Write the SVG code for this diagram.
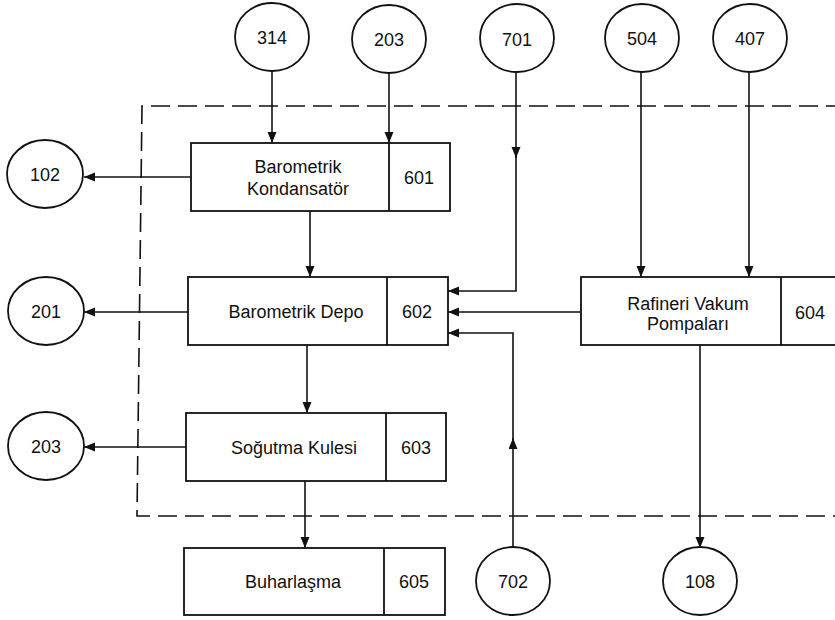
<svg xmlns="http://www.w3.org/2000/svg" width="835" height="620" viewBox="0 0 835 620">
<defs>
<marker id="ah" markerUnits="userSpaceOnUse" markerWidth="12" markerHeight="10" refX="11" refY="4.5" orient="auto">
<path d="M0,0 L11,4.5 L0,9 z" fill="#111"/>
</marker>
<style>
.n ellipse,.n rect,.n line{fill:#fff;stroke:#111;stroke-width:1.8}
.n line{fill:none}
text{font-family:"Liberation Sans",Arial,sans-serif;font-size:18px;fill:#111;text-anchor:middle}
.c path{fill:none;stroke:#111;stroke-width:1.6}
.dash{fill:none;stroke:#111;stroke-width:1.6;stroke-dasharray:19 8}
</style>
</defs>
<rect width="835" height="620" fill="#fff"/>
<path class="dash" d="M845 106 L142 106 L137 516 L845 516"/>
<g class="c">
<path d="M272 71 V143" marker-end="url(#ah)"/>
<path d="M389 73 V143" marker-end="url(#ah)"/>
<path d="M191 177 H84" marker-end="url(#ah)"/>
<path d="M310 211 V277" marker-end="url(#ah)"/>
<path d="M188 312 H84" marker-end="url(#ah)"/>
<path d="M307 345 V413" marker-end="url(#ah)"/>
<path d="M186 447 H84" marker-end="url(#ah)"/>
<path d="M305 481 V548" marker-end="url(#ah)"/>
<path d="M516 72 V158" marker-end="url(#ah)"/>
<path d="M516 156 V291 H448" marker-end="url(#ah)"/>
<path d="M581 312 H448" marker-end="url(#ah)"/>
<path d="M513 548 V438" marker-end="url(#ah)"/>
<path d="M513 440 V333 H448" marker-end="url(#ah)"/>
<path d="M641 72 V277" marker-end="url(#ah)"/>
<path d="M749 72 V277" marker-end="url(#ah)"/>
<path d="M700 345 V548" marker-end="url(#ah)"/>
</g>
<g id="c314" class="n"><ellipse cx="272" cy="37" rx="37" ry="34"/><text x="272" y="44">314</text></g>
<g id="c203a" class="n"><ellipse cx="389" cy="39" rx="37" ry="34"/><text x="389" y="46">203</text></g>
<g id="c701" class="n"><ellipse cx="517" cy="38" rx="37" ry="34"/><text x="517" y="46">701</text></g>
<g id="c504" class="n"><ellipse cx="642" cy="38" rx="37" ry="34"/><text x="642" y="45">504</text></g>
<g id="c407" class="n"><ellipse cx="750" cy="38" rx="37" ry="34"/><text x="750" y="45">407</text></g>
<g id="c102" class="n"><ellipse cx="45" cy="174" rx="38" ry="34"/><text x="45" y="181">102</text></g>
<g id="c201" class="n"><ellipse cx="46" cy="311" rx="38" ry="34"/><text x="46" y="318">201</text></g>
<g id="c203b" class="n"><ellipse cx="46" cy="446" rx="38" ry="34"/><text x="46" y="453">203</text></g>
<g id="c702" class="n"><ellipse cx="513" cy="581" rx="37" ry="34"/><text x="513" y="588">702</text></g>
<g id="c108" class="n"><ellipse cx="700" cy="581" rx="37" ry="34"/><text x="700" y="588">108</text></g>
<g id="b601" class="n"><rect x="191" y="143" width="259" height="68"/><line x1="389" y1="143" x2="389" y2="211"/><text x="298" y="173">Barometrik</text><text x="298" y="195">Kondansatör</text><text x="419" y="184">601</text></g>
<g id="b602" class="n"><rect x="188" y="277" width="260" height="68"/><line x1="387" y1="277" x2="387" y2="345"/><text x="296" y="318">Barometrik Depo</text><text x="417" y="318">602</text></g>
<g id="b603" class="n"><rect x="186" y="413" width="260" height="68"/><line x1="386" y1="413" x2="386" y2="481"/><text x="294" y="454">Soğutma Kulesi</text><text x="416" y="454">603</text></g>
<g id="b605" class="n"><rect x="184" y="548" width="261" height="67"/><line x1="384" y1="548" x2="384" y2="615"/><text x="293" y="588">Buharlaşma</text><text x="414" y="588">605</text></g>
<g id="b604" class="n"><rect x="581" y="277" width="270" height="68"/><line x1="781" y1="277" x2="781" y2="345"/><text x="688" y="310">Rafineri Vakum</text><text x="688" y="330">Pompaları</text><text x="810" y="319">604</text></g>
</svg>
